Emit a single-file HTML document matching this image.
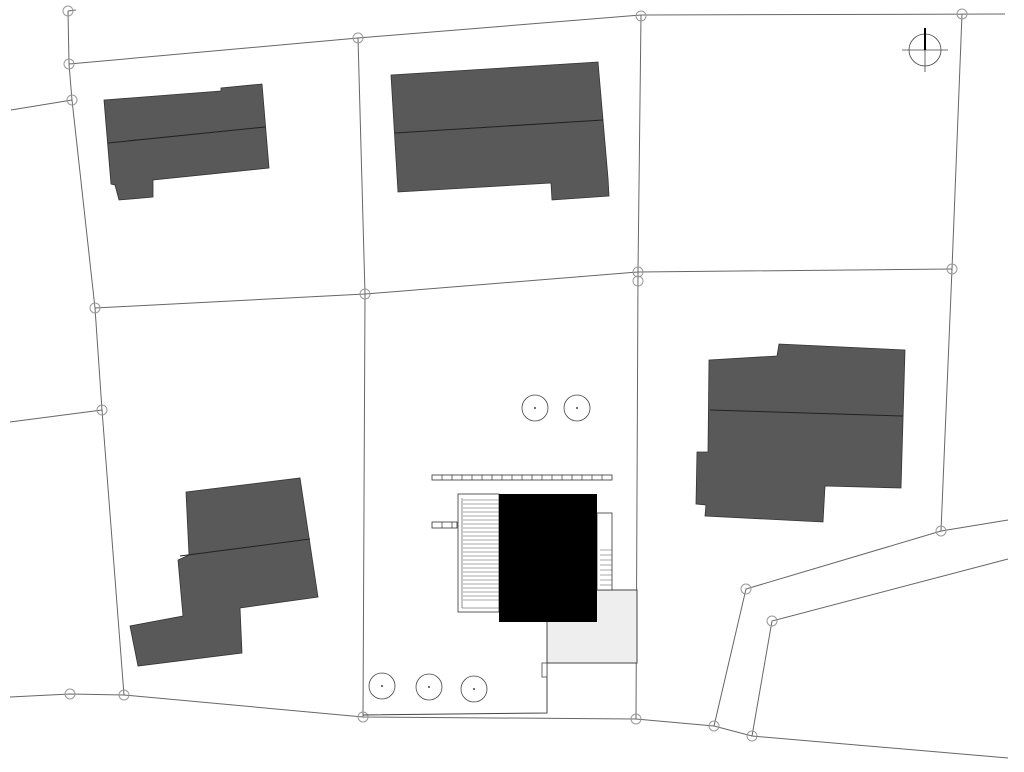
<!DOCTYPE html>
<html><head><meta charset="utf-8"><style>html,body{margin:0;padding:0;background:#fff}svg{display:block}</style></head>
<body>
<svg width="1024" height="772" viewBox="0 0 1024 772" xmlns="http://www.w3.org/2000/svg">
<g fill="none" stroke="#666" stroke-width="1">
<polyline points="68,11 69,64 72,100 95,308 102,410 124,695"/>
<line x1="68" y1="11" x2="76" y2="10"/>
<polyline points="69,64 358,38 641,15 1005,14"/>
<line x1="11" y1="110" x2="72" y2="100"/>
<polyline points="358,38 365,294 363,717"/>
<polyline points="641,15 638,272 636,719"/>
<polyline points="962,14 952,269 941,531"/>
<polyline points="95,308 365,294 638,272 952,269"/>
<line x1="10" y1="422" x2="102" y2="410"/>
<polyline points="10,697 70,694 124,695 363,717 636,719 714,726 752,736 1008,758"/>
<polyline points="1008,520 941,531 746,589 714,726"/>
<polyline points="1008,559 772,621 752,736"/>
</g>
<g fill="none" stroke="#999" stroke-width="1">
<circle cx="68" cy="11" r="5"/><circle cx="69" cy="64" r="5"/><circle cx="72" cy="100" r="5"/>
<circle cx="358" cy="38" r="5"/><circle cx="641" cy="16" r="5"/><circle cx="962" cy="14" r="5"/>
<circle cx="95" cy="308" r="5"/><circle cx="365" cy="294" r="5"/><circle cx="638" cy="272" r="5"/><circle cx="638" cy="281" r="5"/><circle cx="952" cy="269" r="5"/>
<circle cx="102" cy="410" r="5"/><circle cx="941" cy="531" r="5"/>
<circle cx="70" cy="694" r="5"/><circle cx="124" cy="695" r="5"/><circle cx="363" cy="717" r="5"/><circle cx="636" cy="719" r="5"/>
<circle cx="714" cy="726" r="5"/><circle cx="752" cy="736" r="5"/><circle cx="746" cy="589" r="5"/><circle cx="772" cy="621" r="5"/>
</g>
<g fill="#595959" stroke="#333" stroke-width="0.8">
<polygon points="104,100 221,91 221,88 262,84 269,168 153,180 153,197 119,200 115,185 111,184"/>
<polygon points="391,75 598,62 608,178 609,196 552,200 551,183 398,192"/>
<polygon points="709,360 777,356 779,344 905,350 901,488 825,486 823,522 705,516 706,505 696,504 697,452 708,452"/>
<polygon points="186,492 300,478 318,597 240,608 242,653 138,666 130,626 183,616 178,560 189,555"/>
</g>
<g stroke="#222" stroke-width="1">
<line x1="108" y1="143" x2="265" y2="127"/>
<line x1="395" y1="133" x2="603" y2="120"/>
<line x1="710" y1="410" x2="903" y2="416"/>
<line x1="180" y1="556" x2="310" y2="539"/>
</g>
<rect x="547" y="590" width="90" height="73" fill="#eee" stroke="#444"/>
<g fill="#fff" stroke="#333" stroke-width="0.8">
<rect x="432" y="475" width="180" height="5"/>
<rect x="432" y="522" width="25" height="6"/>
<rect x="458" y="494" width="41" height="118"/>
<rect x="597" y="513" width="15" height="77"/>
</g>
<g stroke="#333" stroke-width="0.7">
<line x1="442" y1="475" x2="442" y2="480"/><line x1="452" y1="475" x2="452" y2="480"/><line x1="462" y1="475" x2="462" y2="480"/><line x1="472" y1="475" x2="472" y2="480"/><line x1="482" y1="475" x2="482" y2="480"/><line x1="492" y1="475" x2="492" y2="480"/><line x1="502" y1="475" x2="502" y2="480"/><line x1="512" y1="475" x2="512" y2="480"/><line x1="522" y1="475" x2="522" y2="480"/><line x1="532" y1="475" x2="532" y2="480"/><line x1="542" y1="475" x2="542" y2="480"/><line x1="552" y1="475" x2="552" y2="480"/><line x1="562" y1="475" x2="562" y2="480"/><line x1="572" y1="475" x2="572" y2="480"/><line x1="582" y1="475" x2="582" y2="480"/><line x1="592" y1="475" x2="592" y2="480"/><line x1="602" y1="475" x2="602" y2="480"/>
<line x1="442" y1="522" x2="442" y2="528"/><line x1="452" y1="522" x2="452" y2="528"/>
</g>
<g stroke="#444" stroke-width="0.6">
<line x1="462" y1="498" x2="462" y2="608"/>
<line x1="462" y1="608" x2="499" y2="608"/>
</g>
<g stroke="#555" stroke-width="0.5">
<line x1="463" y1="500" x2="499" y2="500"/><line x1="463" y1="504" x2="499" y2="504"/><line x1="463" y1="508" x2="499" y2="508"/><line x1="463" y1="512" x2="499" y2="512"/><line x1="463" y1="516" x2="499" y2="516"/><line x1="463" y1="520" x2="499" y2="520"/><line x1="463" y1="524" x2="499" y2="524"/><line x1="463" y1="528" x2="499" y2="528"/><line x1="463" y1="532" x2="499" y2="532"/><line x1="463" y1="536" x2="499" y2="536"/><line x1="463" y1="540" x2="499" y2="540"/><line x1="463" y1="544" x2="499" y2="544"/><line x1="463" y1="548" x2="499" y2="548"/><line x1="463" y1="552" x2="499" y2="552"/><line x1="463" y1="556" x2="499" y2="556"/><line x1="463" y1="560" x2="499" y2="560"/><line x1="463" y1="564" x2="499" y2="564"/><line x1="463" y1="568" x2="499" y2="568"/><line x1="463" y1="572" x2="499" y2="572"/><line x1="463" y1="576" x2="499" y2="576"/><line x1="463" y1="580" x2="499" y2="580"/><line x1="463" y1="584" x2="499" y2="584"/><line x1="463" y1="588" x2="499" y2="588"/><line x1="463" y1="592" x2="499" y2="592"/><line x1="463" y1="596" x2="499" y2="596"/><line x1="463" y1="600" x2="499" y2="600"/>
<line x1="600" y1="550" x2="612" y2="550"/><line x1="600" y1="555" x2="612" y2="555"/><line x1="600" y1="560" x2="612" y2="560"/><line x1="600" y1="565" x2="612" y2="565"/><line x1="600" y1="570" x2="612" y2="570"/><line x1="600" y1="575" x2="612" y2="575"/><line x1="600" y1="580" x2="612" y2="580"/><line x1="600" y1="585" x2="612" y2="585"/>
</g>
<rect x="499" y="494" width="98" height="128" fill="#000"/>
<polyline points="363,715 547,713 547,663" fill="none" stroke="#444"/>
<rect x="542" y="663" width="5" height="14" fill="#fff" stroke="#444" stroke-width="0.8"/>
<g fill="none" stroke="#444" stroke-width="0.8">
<circle cx="535" cy="408" r="13"/><circle cx="577" cy="408" r="13"/>
<circle cx="382" cy="686" r="13"/><circle cx="429" cy="687" r="13"/><circle cx="474" cy="689" r="13"/>
</g>
<g fill="#444"><circle cx="535" cy="408" r="1"/><circle cx="577" cy="408" r="1"/><circle cx="382" cy="686" r="1"/><circle cx="429" cy="687" r="1"/><circle cx="474" cy="689" r="1"/></g>
<g fill="none" stroke="#444" stroke-width="0.8">
<circle cx="925" cy="50" r="16"/>
<line x1="902" y1="50" x2="948" y2="50"/><line x1="925" y1="50" x2="925" y2="72"/>
</g>
<line x1="925" y1="28" x2="925" y2="50" stroke="#000" stroke-width="2"/>
</svg>
</body></html>
